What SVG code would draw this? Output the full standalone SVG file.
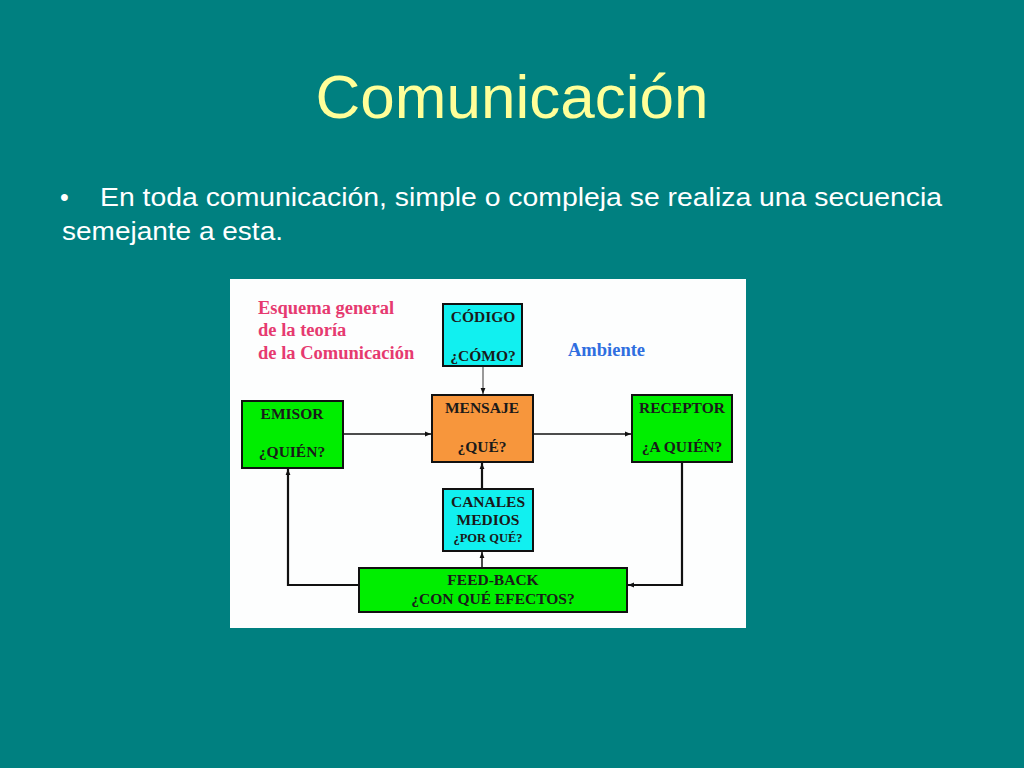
<svg xmlns="http://www.w3.org/2000/svg" width="1024" height="768" viewBox="0 0 1024 768">
<style>
.box{stroke:#111;stroke-width:2}
.g{fill:#00ee00}
.c{fill:#11f0f0}
.o{fill:#f7963c}
.bt{font-family:"Liberation Serif",serif;font-weight:bold;font-size:15.5px;fill:#1a1a1a;text-anchor:middle}
.ln{fill:none;stroke:#111;stroke-width:1.5}
.fb{fill:none;stroke:#111;stroke-width:2.2}
</style>
<defs>
<marker id="ah" viewBox="0 0 10 10" refX="10" refY="5" markerWidth="6" markerHeight="6" markerUnits="userSpaceOnUse" orient="auto">
<path d="M0,1 L10,5 L0,9 z" fill="#111"/>
</marker>
</defs>
<rect width="1024" height="768" fill="#008080"/>
<text x="512" y="118" text-anchor="middle" font-family="Liberation Sans,Arial,sans-serif" font-size="62" fill="#ffff99" textLength="393" lengthAdjust="spacingAndGlyphs">Comunicación</text>
<text font-family="Liberation Sans,Arial,sans-serif" font-size="25" fill="#ffffff">
<tspan x="60" y="206">•</tspan>
<tspan x="100" y="206" textLength="842" lengthAdjust="spacingAndGlyphs">En toda comunicación, simple o compleja se realiza una secuencia</tspan>
<tspan x="62" y="240" textLength="221" lengthAdjust="spacingAndGlyphs">semejante a esta.</tspan>
</text>
<rect x="230" y="279" width="516" height="349" fill="#fdfefe"/>
<text font-family="Liberation Serif,serif" font-weight="bold" font-size="18.5" fill="#e63a70">
<tspan x="258" y="314">Esquema general</tspan>
<tspan x="258" y="336">de la teoría</tspan>
<tspan x="258" y="359">de la Comunicación</tspan>
</text>
<text x="568" y="356" font-family="Liberation Serif,serif" font-weight="bold" font-size="18.5" fill="#2f6ee0">Ambiente</text>
<g id="connectors">
<line x1="483" y1="367" x2="483" y2="394" stroke="#777" stroke-width="1.5" marker-end="url(#ah)"/>
<line class="ln" x1="344" y1="434" x2="431" y2="434" marker-end="url(#ah)"/>
<line class="ln" x1="534" y1="434" x2="631" y2="434" marker-end="url(#ah)"/>
<line class="fb" x1="482" y1="488" x2="482" y2="463" marker-end="url(#ah)"/>
<line class="ln" x1="482" y1="567" x2="482" y2="552" marker-end="url(#ah)"/>
<polyline class="fb" points="359,585 288,585 288,469" marker-end="url(#ah)"/>
<polyline class="fb" points="682,463 682,585 628,585" marker-end="url(#ah)"/>
</g>
<g id="codigo">
<rect class="box c" x="443" y="304" width="79" height="62"/>
<text class="bt" x="483" y="322">CÓDIGO</text>
<text class="bt" x="483" y="361">¿CÓMO?</text>
</g>
<g id="emisor">
<rect class="box g" x="242" y="401" width="101" height="67"/>
<text class="bt" x="292" y="419">EMISOR</text>
<text class="bt" x="292" y="457">¿QUIÉN?</text>
</g>
<g id="mensaje">
<rect class="box o" x="432" y="395" width="101" height="67"/>
<text class="bt" x="482" y="413">MENSAJE</text>
<text class="bt" x="482" y="452">¿QUÉ?</text>
</g>
<g id="receptor">
<rect class="box g" x="632" y="395" width="100" height="67"/>
<text class="bt" x="682" y="413">RECEPTOR</text>
<text class="bt" x="682" y="452">¿A QUIÉN?</text>
</g>
<g id="canales">
<rect class="box c" x="443" y="489" width="90" height="62"/>
<text class="bt" x="488" y="507">CANALES</text>
<text class="bt" x="488" y="525">MEDIOS</text>
<text class="bt" x="488" y="542" style="font-size:12.5px">¿POR QUÉ?</text>
</g>
<g id="feedback">
<rect class="box g" x="359" y="568" width="268" height="44"/>
<text class="bt" x="493" y="585">FEED-BACK</text>
<text class="bt" x="493" y="604">¿CON QUÉ EFECTOS?</text>
</g>
</svg>
